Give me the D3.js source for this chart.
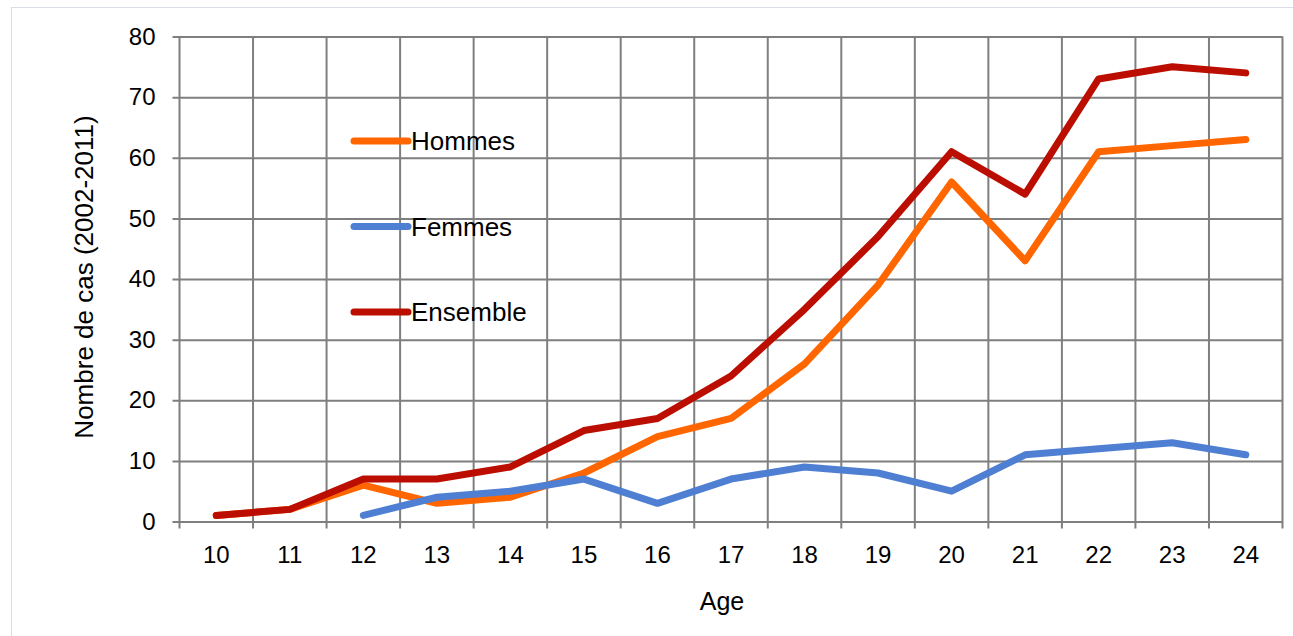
<!DOCTYPE html>
<html>
<head>
<meta charset="utf-8">
<script src="https://cdn.jsdelivr.net/npm/d3@7"></script>
<style>
  body { margin: 0; background: #fff; }
  svg { display: block; font-family: "Liberation Sans", Arial, sans-serif; }
</style>
</head>
<body>
<div id="chart"></div>
<script>
const ages = ['10', '11', '12', '13', '14', '15', '16', '17', '18', '19', '20', '21', '22', '23', '24'];
const hommes = [1, 2, 6, 3, 4, 8, 14, 17, 26, 39, 56, 43, 61, 62, 63];
const femmes = [null, null, 1, 4, 5, 7, 3, 7, 9, 8, 5, 11, 12, 13, 11];
const ensemble = [1, 2, 7, 7, 9, 15, 17, 24, 35, 47, 61, 54, 73, 75, 74];
const yTicks = [0, 10, 20, 30, 40, 50, 60, 70, 80];

const series = [
  { name: 'Hommes', values: hommes, color: '#ff6600' },
  { name: 'Femmes', values: femmes, color: '#4f7fd2' },
  { name: 'Ensemble', values: ensemble, color: '#bb0d00' }
];

const w = 1293;
const h = 636;
const plotLeft = 179.5, plotRight = 1282.5, plotTop = 36.5, plotBottom = 521.5;

const svg = d3.select('#chart')
  .append('svg')
    .attr('width', w)
    .attr('height', h);

// outer frame
svg.append('rect')
  .attr('x', 11.5).attr('y', 7.5)
  .attr('width', 1400).attr('height', 700)
  .attr('fill', 'none')
  .attr('stroke', '#d9dee6')
  .attr('stroke-width', 1);

const x = d3.scaleBand()
  .domain(ages)
  .range([plotLeft, plotRight]);

const y = d3.scaleLinear()
  .domain([0, 80])
  .range([plotBottom, plotTop]);

const gridColor = '#7f7f7f';

// horizontal grid + y axis
const yAxis = d3.axisLeft(y)
  .tickValues(yTicks)
  .tickSize(plotRight - plotLeft + 7)
  .tickPadding(17);

svg.append('g')
    .attr('transform', `translate(${plotRight}, 0)`)
  .call(yAxis)
  .call(g => g.select('.domain').remove())
  .call(g => g.selectAll('line').attr('stroke', gridColor).attr('stroke-width', 2))
  .call(g => g.selectAll('text')
    .attr('font-size', 24)
    .attr('fill', '#000')
    .style('font-family', '"Liberation Sans", Arial, sans-serif'));

// vertical grid lines at category boundaries
const bounds = ages.map(a => x(a)).concat([plotRight]);
svg.append('g')
  .selectAll('line')
  .data(bounds)
  .enter()
  .append('line')
    .attr('x1', d => d)
    .attr('x2', d => d)
    .attr('y1', plotTop)
    .attr('y2', plotBottom + 7)
    .attr('stroke', gridColor)
    .attr('stroke-width', 2);

// x labels
const xAxis = d3.axisBottom(x).tickSize(0).tickPadding(24);
svg.append('g')
    .attr('transform', `translate(0, ${plotBottom})`)
  .call(xAxis)
  .call(g => g.select('.domain').remove())
  .call(g => g.selectAll('text')
    .attr('font-size', 24)
    .attr('fill', '#000')
    .style('font-family', '"Liberation Sans", Arial, sans-serif'));

// axis titles
svg.append('text')
  .attr('x', 722)
  .attr('y', 610)
  .attr('text-anchor', 'middle')
  .attr('font-size', 25)
  .text('Age');

svg.append('text')
  .attr('transform', `translate(93, ${(plotTop + plotBottom) / 2 - 2}) rotate(-90)`)
  .attr('text-anchor', 'middle')
  .attr('font-size', 26)
  .text('Nombre de cas (2002-2011)');

// lines
const line = d3.line()
  .defined(d => d.v !== null)
  .x(d => x(d.age) + x.bandwidth() / 2)
  .y(d => y(d.v));

svg.append('g')
  .selectAll('path')
  .data(series)
  .enter()
  .append('path')
    .attr('d', s => line(s.values.map((v, i) => ({ age: ages[i], v }))))
    .attr('fill', 'none')
    .attr('stroke', s => s.color)
    .attr('stroke-width', 7)
    .attr('stroke-linecap', 'round')
    .attr('stroke-linejoin', 'round');

// legend
const legend = svg.append('g')
  .selectAll('g')
  .data(series)
  .enter()
  .append('g')
    .attr('transform', (d, i) => `translate(354, ${141 + i * 85.5})`);

legend.append('line')
  .attr('x1', 0).attr('x2', 54)
  .attr('y1', 0).attr('y2', 0)
  .attr('stroke', d => d.color)
  .attr('stroke-width', 7)
  .attr('stroke-linecap', 'round');

legend.append('text')
  .attr('x', 57)
  .attr('y', 0)
  .attr('dy', '0.35em')
  .attr('font-size', 26)
  .text(d => d.name);
</script>
</body>
</html>
